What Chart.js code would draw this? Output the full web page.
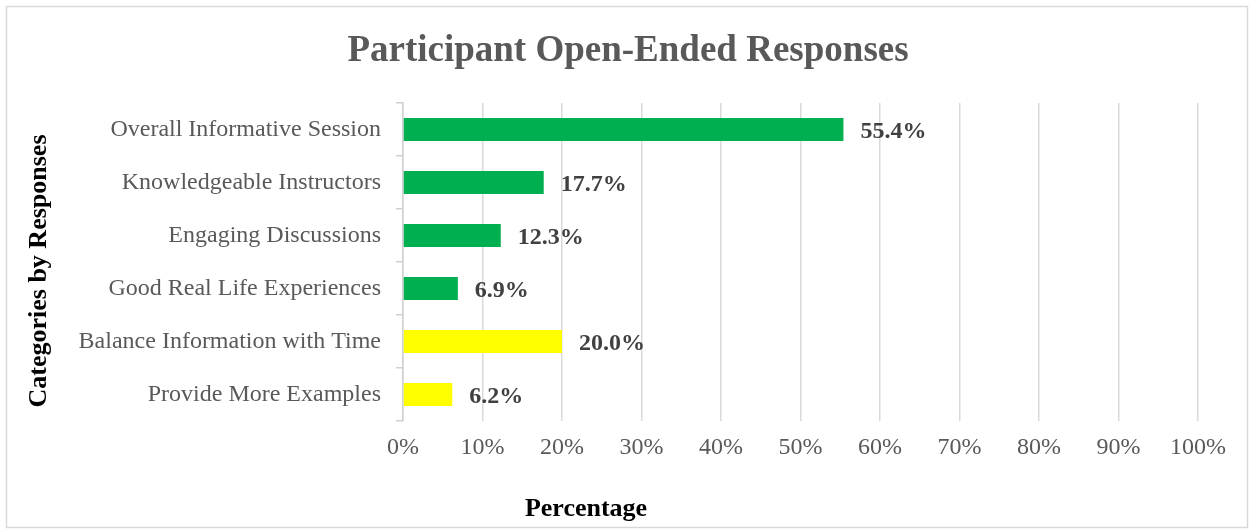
<!DOCTYPE html>
<html>
<head>
<meta charset="utf-8">
<script src="https://cdn.jsdelivr.net/npm/chart.js@4"></script>
<style>
  body { margin: 0; background: #fff; }
  #wrap { width: 1253px; height: 531px; }
</style>
</head>
<body>
<div id="wrap"><canvas id="chart" width="1253" height="531"></canvas></div>
<script>
/* ----- dados ----- */
const categories = [
  'Overall Informative Session',
  'Knowledgeable Instructors',
  'Engaging Discussions',
  'Good Real Life Experiences',
  'Balance Information with Time',
  'Provide More Examples'
];
const values = [55.4, 17.7, 12.3, 6.9, 20.0, 6.2];
const groups = ['liked', 'liked', 'liked', 'liked', 'improve', 'improve'];
const xTicks = [0, 10, 20, 30, 40, 50, 60, 70, 80, 90, 100];

const groupColors = { liked: '#00B050', improve: '#FFFF00' };
const serif = '"Liberation Serif", "Times New Roman", serif';

/* ----- plugins: moldura, titulos e rotulos ----- */
const frame = {
  id: 'frame',
  beforeDraw(chart) {
    const c = chart.ctx;
    c.save();
    c.fillStyle = '#fff';
    c.fillRect(0, 0, chart.width, chart.height);
    c.strokeStyle = '#d9d9d9';
    c.lineWidth = 1.5;
    c.strokeRect(6.5, 6.5, 1241, 521);
    c.restore();
  }
};

const titles = {
  id: 'titles',
  afterDraw(chart) {
    const c = chart.ctx;
    c.save();
    c.textBaseline = 'alphabetic';
    c.textAlign = 'center';
    c.fillStyle = '#595959';
    c.font = 'bold 37px ' + serif;
    c.fillText('Participant Open-Ended Responses', 628, 61);

    c.fillStyle = '#000';
    c.font = 'bold 26px ' + serif;
    c.fillText('Percentage', 586, 516);

    c.translate(46, 271);
    c.rotate(-Math.PI / 2);
    c.fillText('Categories by Responses', 0, 0);
    c.restore();
  }
};

const barLabels = {
  id: 'barLabels',
  afterDatasetsDraw(chart) {
    const c = chart.ctx;
    c.save();
    c.font = 'bold 24px ' + serif;
    c.fillStyle = '#404040';
    c.textAlign = 'left';
    c.textBaseline = 'middle';
    chart.getDatasetMeta(0).data.forEach((bar, i) => {
      c.fillText(values[i].toFixed(1) + '%', bar.x + 17, bar.y + 2);
    });
    c.restore();
  }
};

/* ----- grafico ----- */
new Chart(document.getElementById('chart'), {
  type: 'bar',
  data: {
    labels: categories,
    datasets: [{
      data: values,
      backgroundColor: groups.map(g => groupColors[g]),
      borderWidth: 0,
      barPercentage: 0.43,
      categoryPercentage: 1
    }]
  },
  options: {
    indexAxis: 'y',
    responsive: false,
    animation: false,
    layout: { padding: { top: 103, right: 55, bottom: 0, left: 0 } },
    plugins: {
      legend: { display: false },
      tooltip: { enabled: false }
    },
    scales: {
      x: {
        min: xTicks[0],
        max: xTicks[xTicks.length - 1],
        afterBuildTicks: scale => { scale.ticks = xTicks.map(v => ({ value: v })); },
        afterFit: scale => { scale.height = 110; },
        grid: { color: '#d9d9d9', lineWidth: 1.5, drawTicks: false },
        border: { display: false },
        ticks: {
          padding: 12,
          color: '#595959',
          font: { family: serif, size: 24 },
          callback: v => v + '%'
        }
      },
      y: {
        afterFit: scale => { scale.width = 403; },
        grid: { drawOnChartArea: false, drawTicks: true, tickLength: 7, color: '#d0d0d0', lineWidth: 1.5 },
        border: { display: true, color: '#d0d0d0', width: 1.5 },
        ticks: {
          padding: 15,
          color: '#595959',
          font: { family: serif, size: 24 }
        }
      }
    }
  },
  plugins: [frame, titles, barLabels]
});
</script>
</body>
</html>
